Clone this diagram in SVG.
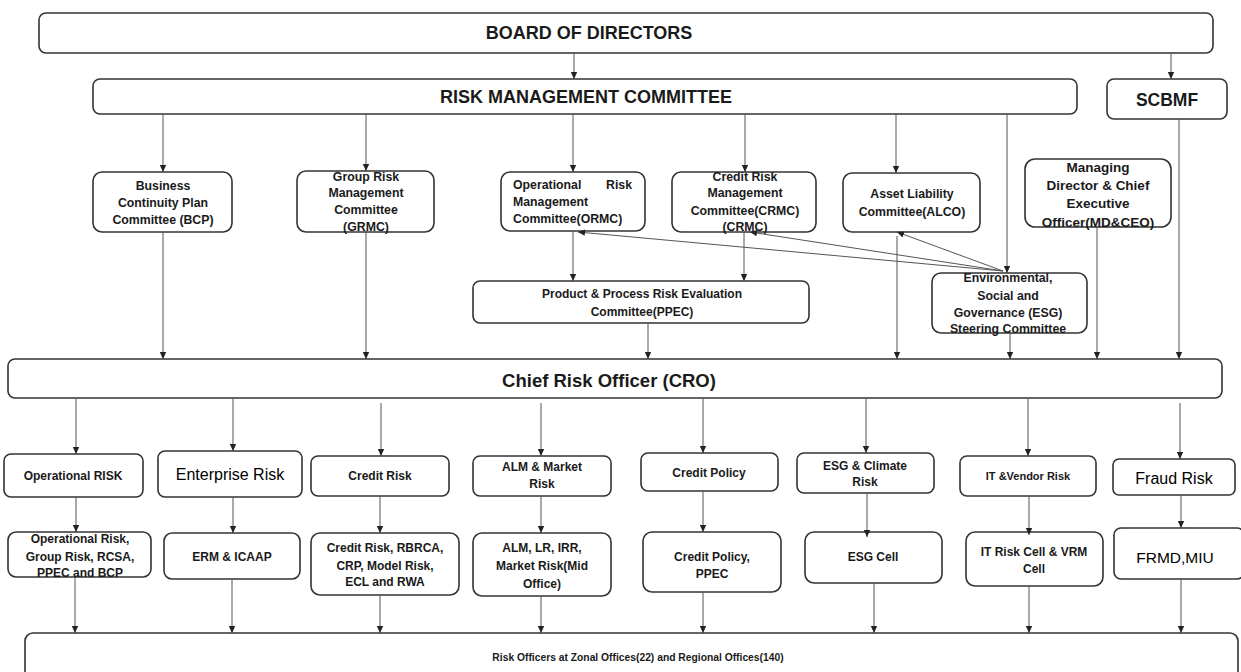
<svg xmlns="http://www.w3.org/2000/svg" width="1241" height="672" viewBox="0 0 1241 672">
<defs>
<marker id="ah" markerUnits="userSpaceOnUse" markerWidth="8" markerHeight="8" refX="7" refY="4" orient="auto">
<path d="M0,0.8 L7,4 L0,7.2 Z" fill="#222"/>
</marker>
<style>
.box{fill:#fff;stroke:#333;stroke-width:1.6}
.t{font-family:"Liberation Sans",Arial,sans-serif;font-weight:bold;fill:#1a1a1a;text-anchor:middle;dominant-baseline:central}
.big{font-size:18px}
.c{font-size:12.3px}
.s{font-size:12px}
.r{font-size:16px;font-weight:normal;fill:#000}
.cn line,.cn path{stroke:#555;stroke-width:1;fill:none;marker-end:url(#ah)}
</style>
</defs>
<rect width="1241" height="672" fill="#fff"/>

<g id="board"><rect class="box" x="39" y="13" width="1174" height="40" rx="7"/><text class="t big" x="589" y="33">BOARD OF DIRECTORS</text></g>
<g id="rmc"><rect class="box" x="93" y="79" width="984" height="35" rx="7"/><text class="t big" x="586" y="97">RISK MANAGEMENT COMMITTEE</text></g>
<g id="scbmf"><rect class="box" x="1107" y="79" width="120" height="40" rx="7"/><text class="t" style="font-size:17.5px" x="1167" y="100">SCBMF</text></g>

<g id="bcp"><rect class="box" x="93" y="172" width="139" height="60" rx="9"/><text class="t c" x="163"><tspan x="163" y="186">Business</tspan><tspan x="163" y="203">Continuity Plan</tspan><tspan x="163" y="220">Committee (BCP)</tspan></text></g>
<g id="grmc"><rect class="box" x="297" y="171" width="137" height="61" rx="9"/><text class="t c" x="366"><tspan x="366" y="177">Group Risk</tspan><tspan x="366" y="193">Management</tspan><tspan x="366" y="210">Committee</tspan><tspan x="366" y="227">(GRMC)</tspan></text></g>
<g id="ormc"><rect class="box" x="501" y="172" width="144" height="59" rx="9"/><text class="t c" style="text-anchor:start"><tspan x="513" y="185">Operational</tspan><tspan x="632" y="185" style="text-anchor:end">Risk</tspan><tspan x="513" y="202">Management</tspan><tspan x="513" y="219">Committee(ORMC)</tspan></text></g>
<g id="crmc"><rect class="box" x="672" y="172" width="144" height="60" rx="9"/><text class="t c" x="745"><tspan x="745" y="177">Credit Risk</tspan><tspan x="745" y="193">Management</tspan><tspan x="745" y="211">Committee(CRMC)</tspan><tspan x="745" y="227">(CRMC)</tspan></text></g>
<g id="alco"><rect class="box" x="843" y="173" width="137" height="59" rx="9"/><text class="t c" x="912"><tspan x="912" y="194">Asset Liability</tspan><tspan x="912" y="212">Committee(ALCO)</tspan></text></g>
<g id="mdceo"><rect class="box" x="1025" y="159" width="146" height="68" rx="10"/><text class="t" style="font-size:13.5px" x="1098"><tspan x="1098" y="167">Managing</tspan><tspan x="1098" y="185">Director &amp; Chief</tspan><tspan x="1098" y="203">Executive</tspan><tspan x="1098" y="222">Officer(MD&amp;CEO)</tspan></text></g>
<g id="ppec"><rect class="box" x="473" y="281" width="336" height="42" rx="7"/><text class="t s" x="642"><tspan x="642" y="294">Product &amp; Process Risk Evaluation</tspan><tspan x="642" y="312">Committee(PPEC)</tspan></text></g>
<g id="esg"><rect class="box" x="932" y="273" width="155" height="60" rx="9"/><text class="t c" x="1008"><tspan x="1008" y="278">Environmental,</tspan><tspan x="1008" y="296">Social and</tspan><tspan x="1008" y="313">Governance (ESG)</tspan><tspan x="1008" y="329">Steering Committee</tspan></text></g>

<g id="cro"><rect class="box" x="8" y="359" width="1214" height="39" rx="7"/><text class="t" style="font-size:18.5px" x="609" y="380">Chief Risk Officer (CRO)</text></g>

<g id="oprisk"><rect class="box" x="4" y="454" width="139" height="43" rx="7"/><text class="t s" x="73" y="476">Operational RISK</text></g>
<g id="entrisk"><rect class="box" x="158" y="451" width="144" height="46" rx="7"/><text class="t r" x="230" y="474">Enterprise Risk</text></g>
<g id="credrisk"><rect class="box" x="311" y="456" width="138" height="40" rx="7"/><text class="t s" x="380" y="476">Credit Risk</text></g>
<g id="almrisk"><rect class="box" x="473" y="456" width="138" height="40" rx="7"/><text class="t s" x="542"><tspan x="542" y="467">ALM &amp; Market</tspan><tspan x="542" y="484">Risk</tspan></text></g>
<g id="credpol"><rect class="box" x="641" y="453" width="137" height="38" rx="7"/><text class="t s" x="709" y="473">Credit Policy</text></g>
<g id="esgclim"><rect class="box" x="797" y="453" width="137" height="40" rx="7"/><text class="t s" x="865"><tspan x="865" y="466">ESG &amp; Climate</tspan><tspan x="865" y="482">Risk</tspan></text></g>
<g id="itrisk"><rect class="box" x="960" y="456" width="136" height="40" rx="7"/><text class="t" style="font-size:11px" x="1028" y="476">IT &amp;Vendor Risk</text></g>
<g id="fraud"><rect class="box" x="1113" y="459" width="122" height="36" rx="6"/><text class="t r" x="1174" y="478">Fraud Risk</text></g>

<g id="oplist"><rect class="box" x="8" y="532" width="143" height="45" rx="8"/><text class="t s" x="80"><tspan x="80" y="539">Operational Risk,</tspan><tspan x="80" y="557">Group Risk, RCSA,</tspan><tspan x="80" y="573">PPEC and BCP</tspan></text></g>
<g id="erm"><rect class="box" x="164" y="533" width="136" height="46" rx="8"/><text class="t s" x="232" y="557">ERM &amp; ICAAP</text></g>
<g id="credlist"><rect class="box" x="311" y="533" width="148" height="62" rx="9"/><text class="t s" x="385"><tspan x="385" y="548">Credit Risk, RBRCA,</tspan><tspan x="385" y="566">CRP, Model Risk,</tspan><tspan x="385" y="582">ECL and RWA</tspan></text></g>
<g id="almlist"><rect class="box" x="473" y="533" width="138" height="63" rx="9"/><text class="t s" x="542"><tspan x="542" y="548">ALM, LR, IRR,</tspan><tspan x="542" y="566">Market Risk(Mid</tspan><tspan x="542" y="584">Office)</tspan></text></g>
<g id="polppec"><rect class="box" x="643" y="532" width="138" height="60" rx="9"/><text class="t s" x="712"><tspan x="712" y="557">Credit Policy,</tspan><tspan x="712" y="574">PPEC</tspan></text></g>
<g id="esgcell"><rect class="box" x="805" y="532" width="137" height="51" rx="9"/><text class="t s" x="873" y="557">ESG Cell</text></g>
<g id="itcell"><rect class="box" x="966" y="532" width="137" height="54" rx="9"/><text class="t s" x="1034"><tspan x="1034" y="552">IT Risk Cell &amp; VRM</tspan><tspan x="1034" y="569">Cell</tspan></text></g>
<g id="frmd"><rect class="box" x="1114" y="528" width="130" height="51" rx="7"/><text class="t r" style="font-size:15.5px" x="1175" y="557">FRMD,MIU</text></g>

<g id="officers"><rect class="box" x="25" y="633" width="1213" height="70" rx="8"/><text class="t" style="font-size:10.3px" x="638" y="657">Risk Officers at Zonal Offices(22) and Regional Offices(140)</text></g>

<g id="connectors" class="cn">
<line x1="574" y1="53" x2="574" y2="79"/>
<line x1="1171" y1="53" x2="1171" y2="79"/>
<line x1="163" y1="114" x2="163" y2="172"/>
<line x1="366" y1="114" x2="366" y2="171"/>
<line x1="573" y1="114" x2="573" y2="172"/>
<line x1="745" y1="114" x2="745" y2="172"/>
<line x1="896" y1="114" x2="896" y2="173"/>
<line x1="1007" y1="114" x2="1007" y2="273"/>
<line x1="573" y1="231" x2="573" y2="281"/>
<line x1="744" y1="232" x2="744" y2="281"/>
<line x1="1003" y1="271" x2="578" y2="232"/>
<line x1="1003" y1="271" x2="750" y2="232"/>
<line x1="1003" y1="271" x2="897" y2="232"/>
<line x1="163" y1="232" x2="163" y2="359"/>
<line x1="366" y1="232" x2="366" y2="359"/>
<line x1="648" y1="323" x2="648" y2="359"/>
<line x1="897" y1="236" x2="897" y2="359"/>
<line x1="1010" y1="333" x2="1010" y2="359"/>
<line x1="1097" y1="227" x2="1097" y2="359"/>
<line x1="1179" y1="119" x2="1179" y2="359"/>
<line x1="76" y1="398" x2="76" y2="454"/>
<line x1="233" y1="398" x2="233" y2="451"/>
<line x1="381" y1="403" x2="381" y2="456"/>
<line x1="541" y1="403" x2="541" y2="456"/>
<line x1="703" y1="398" x2="703" y2="453"/>
<line x1="866" y1="398" x2="866" y2="453"/>
<line x1="1028" y1="398" x2="1028" y2="456"/>
<line x1="1180" y1="403" x2="1180" y2="459"/>
<line x1="76" y1="497" x2="76" y2="532"/>
<line x1="233" y1="497" x2="233" y2="533"/>
<line x1="380" y1="496" x2="380" y2="533"/>
<line x1="541" y1="496" x2="541" y2="533"/>
<line x1="703" y1="491" x2="703" y2="532"/>
<line x1="867" y1="493" x2="867" y2="537"/>
<line x1="1029" y1="496" x2="1029" y2="535"/>
<line x1="1181" y1="495" x2="1181" y2="528"/>
<line x1="75" y1="577" x2="75" y2="633"/>
<line x1="232" y1="579" x2="232" y2="633"/>
<line x1="380" y1="595" x2="380" y2="633"/>
<line x1="541" y1="596" x2="541" y2="633"/>
<line x1="703" y1="592" x2="703" y2="633"/>
<line x1="874" y1="583" x2="874" y2="633"/>
<line x1="1029" y1="586" x2="1029" y2="633"/>
<line x1="1181" y1="579" x2="1181" y2="633"/>
</g>
</svg>
